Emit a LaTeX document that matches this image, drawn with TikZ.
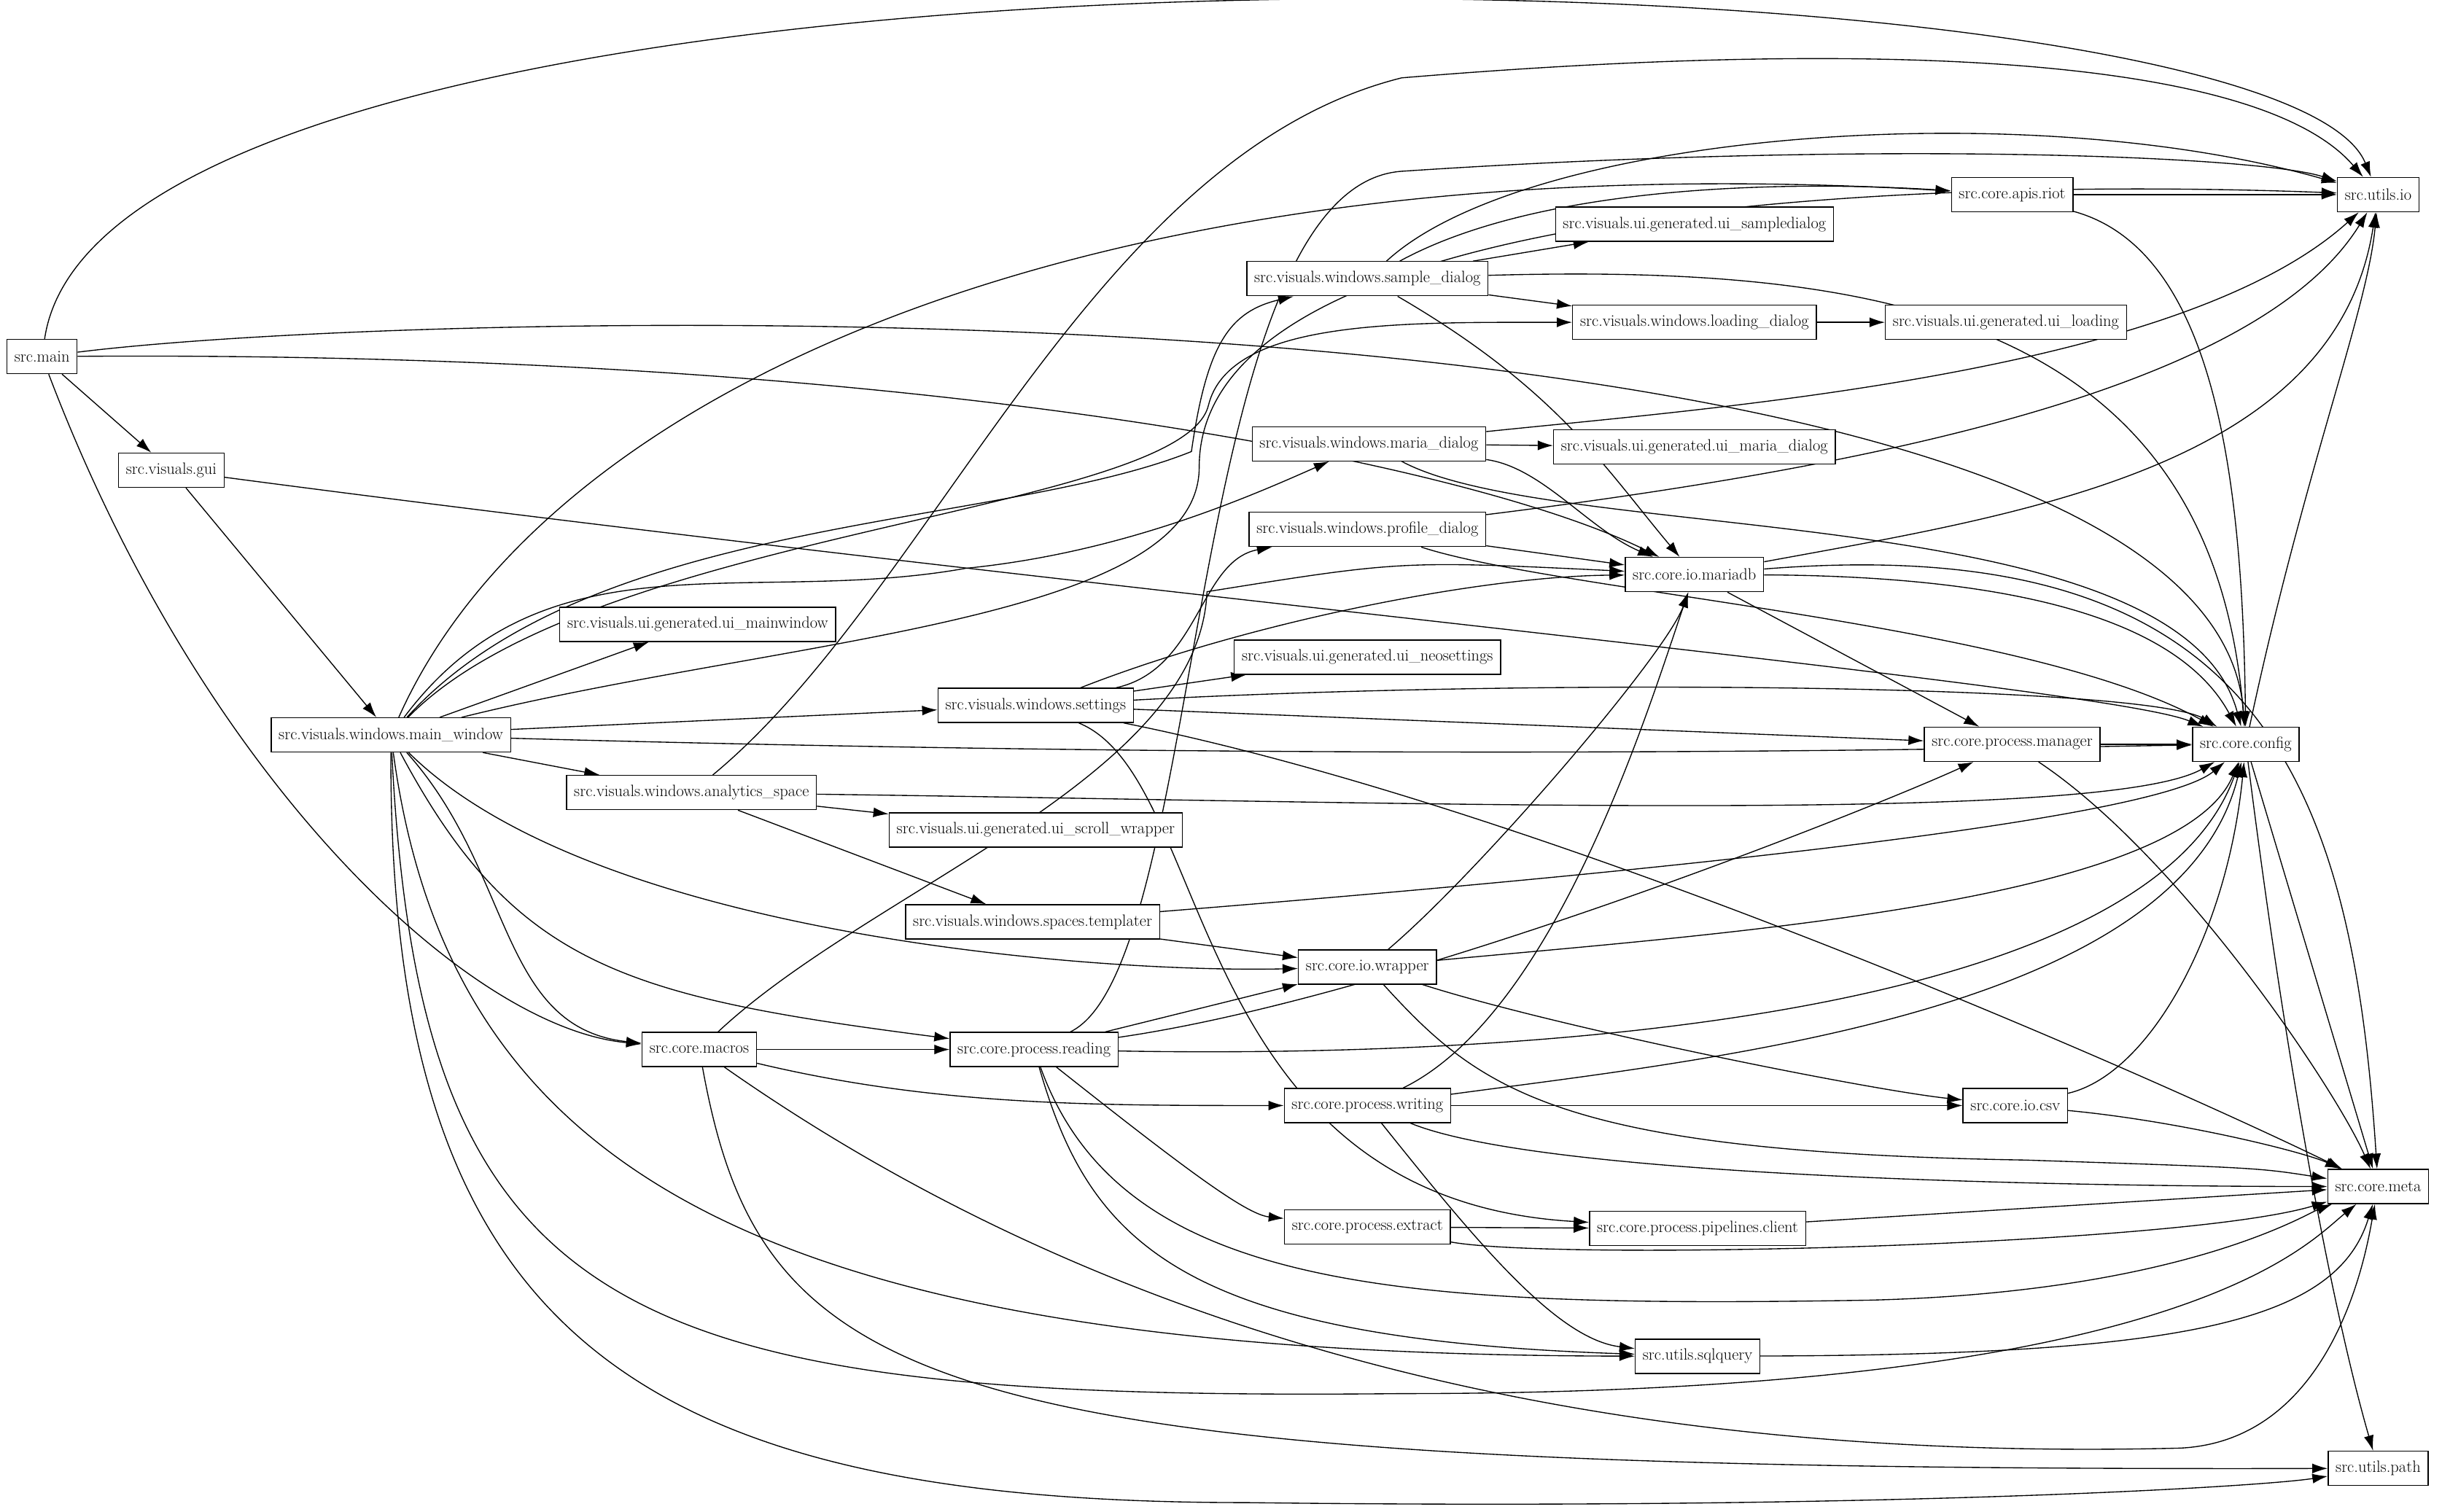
\documentclass[tikz,border=0pt]{standalone}
\usetikzlibrary{arrows.meta}
\pgfdeclarelayer{bg}
\pgfsetlayers{bg,main}
\begin{document}
\begin{tikzpicture}[x=0.05cm,y=-0.05cm,
  n/.style={draw,fill=white,rectangle,line width=0.9pt,minimum height=1.1cm,inner xsep=0.24cm,font=\fontsize{15}{17}\selectfont},
  e/.style={line width=0.9pt,-{Latex[length=14pt,width=9pt]}}]
\begin{pgfonlayer}{bg}
\fill[white] (0,0) rectangle (1568,971);
\end{pgfonlayer}
\useasboundingbox (0,0) rectangle (1568,971);
\node[n] (main) at (27,229) {src.main};
\node[n] (gui) at (110,302) {src.visuals.gui};
\node[n] (mw) at (251,472) {src.visuals.windows.main\_window};
\node[n] (uimw) at (448,401) {src.visuals.ui.generated.ui\_mainwindow};
\node[n] (as) at (444,509) {src.visuals.windows.analytics\_space};
\node[n] (scroll) at (665,533) {src.visuals.ui.generated.ui\_scroll\_wrapper};
\node[n] (templ) at (663,592) {src.visuals.windows.spaces.templater};
\node[n] (macros) at (449,674) {src.core.macros};
\node[n] (reading) at (664,674) {src.core.process.reading};
\node[n] (set) at (665,453) {src.visuals.windows.settings};
\node[n] (sample) at (878,179) {src.visuals.windows.sample\_dialog};
\node[n] (maria) at (879,285) {src.visuals.windows.maria\_dialog};
\node[n] (profile) at (878,340) {src.visuals.windows.profile\_dialog};
\node[n] (neo) at (878,422) {src.visuals.ui.generated.ui\_neosettings};
\node[n] (loading) at (1088,207) {src.visuals.windows.loading\_dialog};
\node[n] (uisample) at (1088,144) {src.visuals.ui.generated.ui\_sampledialog};
\node[n] (uimaria) at (1088,287) {src.visuals.ui.generated.ui\_maria\_dialog};
\node[n] (uiload) at (1288,207) {src.visuals.ui.generated.ui\_loading};
\node[n] (mariadb) at (1088,369) {src.core.io.mariadb};
\node[n] (wrapper) at (878,621) {src.core.io.wrapper};
\node[n] (writing) at (878,710) {src.core.process.writing};
\node[n] (extract) at (878,788) {src.core.process.extract};
\node[n] (pipe) at (1090,789) {src.core.process.pipelines.client};
\node[n] (sql) at (1090,871) {src.utils.sqlquery};
\node[n] (apis) at (1292,125) {src.core.apis.riot};
\node[n] (manager) at (1292,478) {src.core.process.manager};
\node[n] (csv) at (1294,710) {src.core.io.csv};
\node[n] (uio) at (1527,125) {src.utils.io};
\node[n] (config) at (1442,478) {src.core.config};
\node[n] (meta) at (1527,762) {src.core.meta};
\node[n] (path) at (1527,943) {src.utils.path};

\begin{pgfonlayer}{bg}
% main
\draw[e] (main) .. controls (70,-65) and (1460,-40) .. (uio);
\draw[e] (main) .. controls (300,195) and (1420,175) .. (config);
\draw[e] (main) .. controls (600,225) and (950,300) .. (mariadb);
\draw[e] (main) -- (gui);
\draw[e] (main) .. controls (130,500) and (300,660) .. (macros);
% gui
\draw[e] (gui) -- (mw);
\draw[e] (gui) .. controls (700,380) and (1350,440) .. (config);
% main_window
\draw[e] (mw) -- (uimw);
\draw[e] (mw) -- (as);
\draw[e] (mw) -- (set);
\draw[e] (mw) .. controls (900,490) and (1300,480) .. (config);
\draw[e] (mw) .. controls (500,410) and (770,400) .. (770,300) .. controls (770,100) and (1400,120) .. (uio);
\draw[e] (mw) .. controls (350,250) and (700,90) .. (apis);
\draw[e] (mw) .. controls (380,330) and (640,340) .. (765,290) .. controls (775,220) and (790,200) .. (sample);
\draw[e] (mw) .. controls (380,340) and (760,330) .. (776,260) .. controls (790,205) and (900,207) .. (loading);
\draw[e] (mw) .. controls (350,340) and (480,390) .. (620,365) .. controls (720,355) and (800,320) .. (maria);
\draw[e] (mw) .. controls (380,600) and (700,625) .. (wrapper);
\draw[e] (mw) .. controls (330,560) and (320,660) .. (macros);
\draw[e] (mw) .. controls (330,620) and (400,640) .. (reading);
\draw[e] (mw) .. controls (290,760) and (500,870) .. (sql);
\draw[e] (mw) .. controls (270,850) and (400,900) .. (900,895) .. controls (1400,895) and (1480,800) .. (meta);
\draw[e] (mw) .. controls (250,850) and (400,965) .. (800,965) .. controls (1200,970) and (1450,955) .. (path);
% analytics
\draw[e] (as) -- (scroll);
\draw[e] (as) -- (templ);
\draw[e] (as) .. controls (900,515) and (1350,530) .. (config);
\draw[e] (as) .. controls (600,380) and (700,100) .. (900,50) .. controls (1200,25) and (1450,35) .. (uio);
% settings
\draw[e] (set) -- (neo);
\draw[e] (set) .. controls (770,430) and (770,360) .. (profile);
\draw[e] (set) .. controls (800,400) and (950,370) .. (mariadb);
\draw[e] (set) .. controls (1000,435) and (1380,440) .. (config);
\draw[e] (set) -- (manager);
\draw[e] (set) .. controls (1000,520) and (1400,700) .. (meta);
\draw[e] (set) .. controls (780,500) and (760,770) .. (pipe);
% sample dialog
\draw[e] (sample) -- (uisample);
\draw[e] (sample) -- (loading);
\draw[e] (sample) .. controls (990,118) and (1150,116) .. (apis);
\draw[e] (sample) .. controls (980,85) and (1300,60) .. (uio);
\draw[e] (sample) .. controls (1200,170) and (1420,200) .. (config);
\draw[e] (sample) .. controls (1000,250) and (1030,300) .. (mariadb);
\draw[e] (loading) -- (uiload);
% maria dialog
\draw[e] (maria) -- (uimaria);
\draw[e] (maria) .. controls (1100,262) and (1400,240) .. (uio);
\draw[e] (maria) .. controls (990,300) and (1020,340) .. (mariadb);
\draw[e] (maria) .. controls (1000,350) and (1400,320) .. (config);
% profile dialog
\draw[e] (profile) -- (mariadb);
\draw[e] (profile) .. controls (1200,300) and (1450,250) .. (uio);
\draw[e] (profile) .. controls (1000,380) and (1300,400) .. (config);
% mariadb
\draw[e] (mariadb) .. controls (1300,330) and (1500,300) .. (uio);
\draw[e] (mariadb) .. controls (1300,370) and (1400,400) .. (config);
\draw[e] (mariadb) -- (manager);
\draw[e] (mariadb) .. controls (1450,340) and (1510,500) .. (meta);
% apis, manager, config
\draw[e] (apis) -- (uio);
\draw[e] (apis) .. controls (1420,160) and (1440,300) .. (config);
\draw[e] (manager) -- (config);
\draw[e] (manager) .. controls (1400,550) and (1500,700) .. (meta);
\draw[e] (config) .. controls (1480,300) and (1520,200) .. (uio);
\draw[e] (config) -- (meta);
\draw[e] (config) .. controls (1470,700) and (1500,850) .. (path);
% templater
\draw[e] (templ) .. controls (1000,565) and (1380,530) .. (config);
\draw[e] (templ) -- (wrapper);
% macros
\draw[e] (macros) -- (reading);
\draw[e] (macros) .. controls (600,710) and (700,710) .. (writing);
\draw[e] (macros) .. controls (560,570) and (770,500) .. (775,380) .. controls (900,360) .. (mariadb);
\draw[e] (macros) .. controls (700,850) and (1000,940) .. (1400,930) .. controls (1500,925) and (1520,800) .. (meta);
\draw[e] (macros) .. controls (490,900) and (600,945) .. (path);
% reading
\draw[e] (reading) -- (wrapper);
\draw[e] (reading) .. controls (900,640) and (1200,520) .. (manager);
\draw[e] (reading) .. controls (1000,680) and (1380,650) .. (config);
\draw[e] (reading) .. controls (760,750) and (800,780) .. (extract);
\draw[e] (reading) .. controls (700,800) and (760,860) .. (sql);
\draw[e] (reading) .. controls (720,830) and (900,840) .. (1200,835) .. controls (1400,830) and (1480,780) .. (meta);
\draw[e] (reading) .. controls (775,620) and (760,120) .. (900,110) .. controls (1200,90) and (1450,100) .. (uio);
% wrapper
\draw[e] (wrapper) .. controls (950,560) and (1070,420) .. (mariadb);
\draw[e] (wrapper) .. controls (1100,600) and (1400,580) .. (config);
\draw[e] (wrapper) .. controls (1000,660) and (1200,700) .. (csv);
\draw[e] (wrapper) .. controls (950,700) and (1000,740) .. (1300,745) .. controls (1450,750) .. (meta);
% writing
\draw[e] (writing) .. controls (1000,650) and (1060,450) .. (mariadb);
\draw[e] (writing) .. controls (1100,680) and (1400,650) .. (config);
\draw[e] (writing) -- (csv);
\draw[e] (writing) .. controls (1000,760) and (1400,762) .. (meta);
\draw[e] (writing) .. controls (950,800) and (1000,860) .. (sql);
% extract, pipe, csv, sql
\draw[e] (extract) -- (pipe);
\draw[e] (extract) .. controls (1000,810) and (1400,800) .. (meta);
\draw[e] (pipe) -- (meta);
\draw[e] (csv) .. controls (1380,690) and (1430,600) .. (config);
\draw[e] (csv) .. controls (1400,720) and (1480,740) .. (meta);
\draw[e] (sql) .. controls (1400,870) and (1500,850) .. (meta);
\end{pgfonlayer}
\end{tikzpicture}
\end{document}
